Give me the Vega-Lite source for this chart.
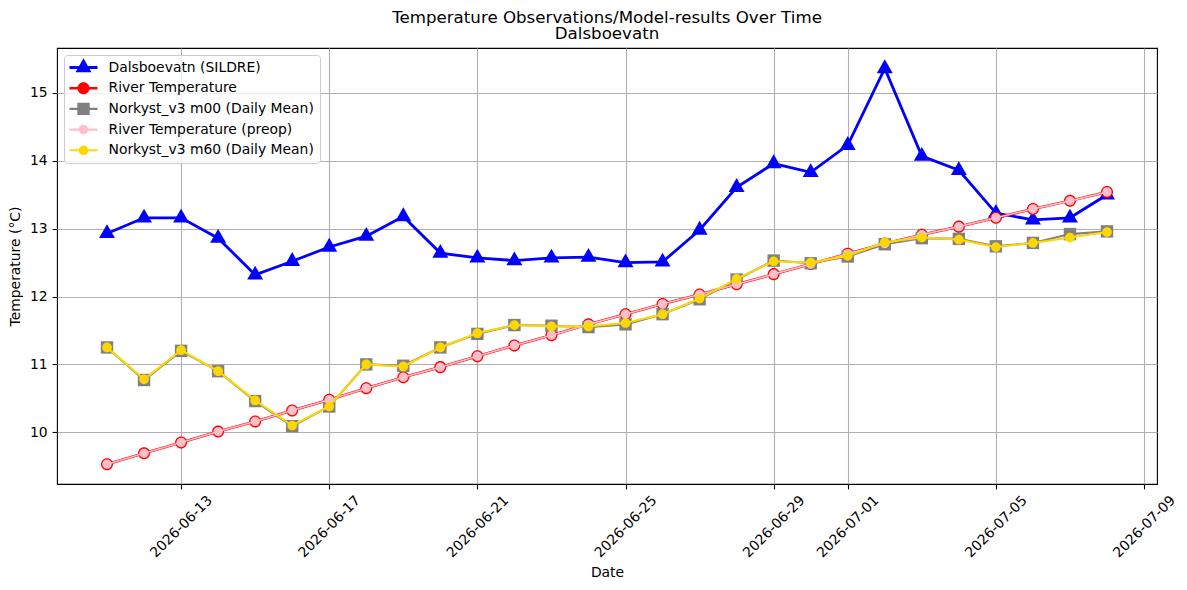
{
  "$schema": "https://vega.github.io/schema/vega-lite/v6.json",
  "width": 1100,
  "height": 436,
  "autosize": {"type": "none"},
  "padding": {"left": 57, "top": 48, "right": 30, "bottom": 106},
  "background": "white",
  "title": {
    "text": ["Temperature Observations/Model-results Over Time", "Dalsboevatn"],
    "fontSize": 16.67,
    "fontWeight": "normal",
    "font": "DejaVu Sans",
    "color": "black",
    "anchor": "middle",
    "lineHeight": 16.7,
    "offset": 5
  },
  "config": {
    "font": "DejaVu Sans",
    "view": {"stroke": "black", "strokeWidth": 1.1},
    "axis": {
      "grid": true,
      "gridColor": "#b0b0b0",
      "gridWidth": 1.1,
      "gridOpacity": 1,
      "domain": false,
      "ticks": true,
      "tickColor": "black",
      "tickSize": 4.9,
      "tickWidth": 1.1,
      "labelFont": "DejaVu Sans",
      "labelFontSize": 13.9,
      "labelColor": "black",
      "titleFont": "DejaVu Sans",
      "titleFontSize": 13.9,
      "titleFontWeight": "normal",
      "titleColor": "black",
      "labelOverlap": false,
      "labelFlush": false
    },
    "legend": {
      "orient": "none",
      "legendX": 7,
      "legendY": 7,
      "fillColor": "rgba(255,255,255,0.8)",
      "strokeColor": "#cccccc",
      "cornerRadius": 3,
      "padding": 5.5,
      "labelFont": "DejaVu Sans",
      "labelFontSize": 13.9,
      "labelColor": "black",
      "labelLimit": 400,
      "symbolSize": 196,
      "symbolOffset": 7,
      "symbolOpacity": 1,
      "symbolStrokeWidth": 0,
      "rowPadding": 6.7,
      "labelOffset": 18
    }
  },
  "data": {
    "values": [
      {"date": "2026-06-11", "series": "Dalsboevatn (SILDRE)", "value": 12.93},
      {"date": "2026-06-12", "series": "Dalsboevatn (SILDRE)", "value": 13.16},
      {"date": "2026-06-13", "series": "Dalsboevatn (SILDRE)", "value": 13.16},
      {"date": "2026-06-14", "series": "Dalsboevatn (SILDRE)", "value": 12.86},
      {"date": "2026-06-15", "series": "Dalsboevatn (SILDRE)", "value": 12.32},
      {"date": "2026-06-16", "series": "Dalsboevatn (SILDRE)", "value": 12.52},
      {"date": "2026-06-17", "series": "Dalsboevatn (SILDRE)", "value": 12.73},
      {"date": "2026-06-18", "series": "Dalsboevatn (SILDRE)", "value": 12.89},
      {"date": "2026-06-19", "series": "Dalsboevatn (SILDRE)", "value": 13.18},
      {"date": "2026-06-20", "series": "Dalsboevatn (SILDRE)", "value": 12.64},
      {"date": "2026-06-21", "series": "Dalsboevatn (SILDRE)", "value": 12.57},
      {"date": "2026-06-22", "series": "Dalsboevatn (SILDRE)", "value": 12.53},
      {"date": "2026-06-23", "series": "Dalsboevatn (SILDRE)", "value": 12.57},
      {"date": "2026-06-24", "series": "Dalsboevatn (SILDRE)", "value": 12.58},
      {"date": "2026-06-25", "series": "Dalsboevatn (SILDRE)", "value": 12.50},
      {"date": "2026-06-26", "series": "Dalsboevatn (SILDRE)", "value": 12.51},
      {"date": "2026-06-27", "series": "Dalsboevatn (SILDRE)", "value": 12.98},
      {"date": "2026-06-28", "series": "Dalsboevatn (SILDRE)", "value": 13.61},
      {"date": "2026-06-29", "series": "Dalsboevatn (SILDRE)", "value": 13.96},
      {"date": "2026-06-30", "series": "Dalsboevatn (SILDRE)", "value": 13.83},
      {"date": "2026-07-01", "series": "Dalsboevatn (SILDRE)", "value": 14.23},
      {"date": "2026-07-02", "series": "Dalsboevatn (SILDRE)", "value": 15.36},
      {"date": "2026-07-03", "series": "Dalsboevatn (SILDRE)", "value": 14.07},
      {"date": "2026-07-04", "series": "Dalsboevatn (SILDRE)", "value": 13.86},
      {"date": "2026-07-05", "series": "Dalsboevatn (SILDRE)", "value": 13.23},
      {"date": "2026-07-06", "series": "Dalsboevatn (SILDRE)", "value": 13.13},
      {"date": "2026-07-07", "series": "Dalsboevatn (SILDRE)", "value": 13.16},
      {"date": "2026-07-08", "series": "Dalsboevatn (SILDRE)", "value": 13.50},

      {"date": "2026-06-11", "series": "River Temperature", "value": 9.53},
      {"date": "2026-06-12", "series": "River Temperature", "value": 9.69},
      {"date": "2026-06-13", "series": "River Temperature", "value": 9.85},
      {"date": "2026-06-14", "series": "River Temperature", "value": 10.01},
      {"date": "2026-06-15", "series": "River Temperature", "value": 10.16},
      {"date": "2026-06-16", "series": "River Temperature", "value": 10.32},
      {"date": "2026-06-17", "series": "River Temperature", "value": 10.48},
      {"date": "2026-06-18", "series": "River Temperature", "value": 10.65},
      {"date": "2026-06-19", "series": "River Temperature", "value": 10.81},
      {"date": "2026-06-20", "series": "River Temperature", "value": 10.96},
      {"date": "2026-06-21", "series": "River Temperature", "value": 11.12},
      {"date": "2026-06-22", "series": "River Temperature", "value": 11.28},
      {"date": "2026-06-23", "series": "River Temperature", "value": 11.43},
      {"date": "2026-06-24", "series": "River Temperature", "value": 11.59},
      {"date": "2026-06-25", "series": "River Temperature", "value": 11.74},
      {"date": "2026-06-26", "series": "River Temperature", "value": 11.89},
      {"date": "2026-06-27", "series": "River Temperature", "value": 12.03},
      {"date": "2026-06-28", "series": "River Temperature", "value": 12.18},
      {"date": "2026-06-29", "series": "River Temperature", "value": 12.33},
      {"date": "2026-06-30", "series": "River Temperature", "value": 12.48},
      {"date": "2026-07-01", "series": "River Temperature", "value": 12.63},
      {"date": "2026-07-02", "series": "River Temperature", "value": 12.78},
      {"date": "2026-07-03", "series": "River Temperature", "value": 12.91},
      {"date": "2026-07-04", "series": "River Temperature", "value": 13.03},
      {"date": "2026-07-05", "series": "River Temperature", "value": 13.16},
      {"date": "2026-07-06", "series": "River Temperature", "value": 13.29},
      {"date": "2026-07-07", "series": "River Temperature", "value": 13.41},
      {"date": "2026-07-08", "series": "River Temperature", "value": 13.54},

      {"date": "2026-06-11", "series": "Norkyst_v3 m00 (Daily Mean)", "value": 11.25},
      {"date": "2026-06-12", "series": "Norkyst_v3 m00 (Daily Mean)", "value": 10.77},
      {"date": "2026-06-13", "series": "Norkyst_v3 m00 (Daily Mean)", "value": 11.20},
      {"date": "2026-06-14", "series": "Norkyst_v3 m00 (Daily Mean)", "value": 10.90},
      {"date": "2026-06-15", "series": "Norkyst_v3 m00 (Daily Mean)", "value": 10.46},
      {"date": "2026-06-16", "series": "Norkyst_v3 m00 (Daily Mean)", "value": 10.09},
      {"date": "2026-06-17", "series": "Norkyst_v3 m00 (Daily Mean)", "value": 10.38},
      {"date": "2026-06-18", "series": "Norkyst_v3 m00 (Daily Mean)", "value": 11.00},
      {"date": "2026-06-19", "series": "Norkyst_v3 m00 (Daily Mean)", "value": 10.98},
      {"date": "2026-06-20", "series": "Norkyst_v3 m00 (Daily Mean)", "value": 11.25},
      {"date": "2026-06-21", "series": "Norkyst_v3 m00 (Daily Mean)", "value": 11.45},
      {"date": "2026-06-22", "series": "Norkyst_v3 m00 (Daily Mean)", "value": 11.58},
      {"date": "2026-06-23", "series": "Norkyst_v3 m00 (Daily Mean)", "value": 11.57},
      {"date": "2026-06-24", "series": "Norkyst_v3 m00 (Daily Mean)", "value": 11.55},
      {"date": "2026-06-25", "series": "Norkyst_v3 m00 (Daily Mean)", "value": 11.59},
      {"date": "2026-06-26", "series": "Norkyst_v3 m00 (Daily Mean)", "value": 11.74},
      {"date": "2026-06-27", "series": "Norkyst_v3 m00 (Daily Mean)", "value": 11.96},
      {"date": "2026-06-28", "series": "Norkyst_v3 m00 (Daily Mean)", "value": 12.25},
      {"date": "2026-06-29", "series": "Norkyst_v3 m00 (Daily Mean)", "value": 12.53},
      {"date": "2026-06-30", "series": "Norkyst_v3 m00 (Daily Mean)", "value": 12.49},
      {"date": "2026-07-01", "series": "Norkyst_v3 m00 (Daily Mean)", "value": 12.59},
      {"date": "2026-07-02", "series": "Norkyst_v3 m00 (Daily Mean)", "value": 12.77},
      {"date": "2026-07-03", "series": "Norkyst_v3 m00 (Daily Mean)", "value": 12.86},
      {"date": "2026-07-04", "series": "Norkyst_v3 m00 (Daily Mean)", "value": 12.85},
      {"date": "2026-07-05", "series": "Norkyst_v3 m00 (Daily Mean)", "value": 12.74},
      {"date": "2026-07-06", "series": "Norkyst_v3 m00 (Daily Mean)", "value": 12.79},
      {"date": "2026-07-07", "series": "Norkyst_v3 m00 (Daily Mean)", "value": 12.92},
      {"date": "2026-07-08", "series": "Norkyst_v3 m00 (Daily Mean)", "value": 12.96},

      {"date": "2026-06-11", "series": "River Temperature (preop)", "value": 9.53},
      {"date": "2026-06-12", "series": "River Temperature (preop)", "value": 9.69},
      {"date": "2026-06-13", "series": "River Temperature (preop)", "value": 9.85},
      {"date": "2026-06-14", "series": "River Temperature (preop)", "value": 10.01},
      {"date": "2026-06-15", "series": "River Temperature (preop)", "value": 10.16},
      {"date": "2026-06-16", "series": "River Temperature (preop)", "value": 10.32},
      {"date": "2026-06-17", "series": "River Temperature (preop)", "value": 10.48},
      {"date": "2026-06-18", "series": "River Temperature (preop)", "value": 10.65},
      {"date": "2026-06-19", "series": "River Temperature (preop)", "value": 10.81},
      {"date": "2026-06-20", "series": "River Temperature (preop)", "value": 10.96},
      {"date": "2026-06-21", "series": "River Temperature (preop)", "value": 11.12},
      {"date": "2026-06-22", "series": "River Temperature (preop)", "value": 11.28},
      {"date": "2026-06-23", "series": "River Temperature (preop)", "value": 11.43},
      {"date": "2026-06-24", "series": "River Temperature (preop)", "value": 11.59},
      {"date": "2026-06-25", "series": "River Temperature (preop)", "value": 11.74},
      {"date": "2026-06-26", "series": "River Temperature (preop)", "value": 11.89},
      {"date": "2026-06-27", "series": "River Temperature (preop)", "value": 12.03},
      {"date": "2026-06-28", "series": "River Temperature (preop)", "value": 12.18},
      {"date": "2026-06-29", "series": "River Temperature (preop)", "value": 12.33},
      {"date": "2026-06-30", "series": "River Temperature (preop)", "value": 12.48},
      {"date": "2026-07-01", "series": "River Temperature (preop)", "value": 12.63},
      {"date": "2026-07-02", "series": "River Temperature (preop)", "value": 12.78},
      {"date": "2026-07-03", "series": "River Temperature (preop)", "value": 12.91},
      {"date": "2026-07-04", "series": "River Temperature (preop)", "value": 13.03},
      {"date": "2026-07-05", "series": "River Temperature (preop)", "value": 13.16},
      {"date": "2026-07-06", "series": "River Temperature (preop)", "value": 13.29},
      {"date": "2026-07-07", "series": "River Temperature (preop)", "value": 13.41},
      {"date": "2026-07-08", "series": "River Temperature (preop)", "value": 13.54},

      {"date": "2026-06-11", "series": "Norkyst_v3 m60 (Daily Mean)", "value": 11.25},
      {"date": "2026-06-12", "series": "Norkyst_v3 m60 (Daily Mean)", "value": 10.78},
      {"date": "2026-06-13", "series": "Norkyst_v3 m60 (Daily Mean)", "value": 11.21},
      {"date": "2026-06-14", "series": "Norkyst_v3 m60 (Daily Mean)", "value": 10.90},
      {"date": "2026-06-15", "series": "Norkyst_v3 m60 (Daily Mean)", "value": 10.47},
      {"date": "2026-06-16", "series": "Norkyst_v3 m60 (Daily Mean)", "value": 10.10},
      {"date": "2026-06-17", "series": "Norkyst_v3 m60 (Daily Mean)", "value": 10.38},
      {"date": "2026-06-18", "series": "Norkyst_v3 m60 (Daily Mean)", "value": 11.00},
      {"date": "2026-06-19", "series": "Norkyst_v3 m60 (Daily Mean)", "value": 10.97},
      {"date": "2026-06-20", "series": "Norkyst_v3 m60 (Daily Mean)", "value": 11.25},
      {"date": "2026-06-21", "series": "Norkyst_v3 m60 (Daily Mean)", "value": 11.46},
      {"date": "2026-06-22", "series": "Norkyst_v3 m60 (Daily Mean)", "value": 11.58},
      {"date": "2026-06-23", "series": "Norkyst_v3 m60 (Daily Mean)", "value": 11.56},
      {"date": "2026-06-24", "series": "Norkyst_v3 m60 (Daily Mean)", "value": 11.56},
      {"date": "2026-06-25", "series": "Norkyst_v3 m60 (Daily Mean)", "value": 11.61},
      {"date": "2026-06-26", "series": "Norkyst_v3 m60 (Daily Mean)", "value": 11.74},
      {"date": "2026-06-27", "series": "Norkyst_v3 m60 (Daily Mean)", "value": 11.97},
      {"date": "2026-06-28", "series": "Norkyst_v3 m60 (Daily Mean)", "value": 12.26},
      {"date": "2026-06-29", "series": "Norkyst_v3 m60 (Daily Mean)", "value": 12.52},
      {"date": "2026-06-30", "series": "Norkyst_v3 m60 (Daily Mean)", "value": 12.50},
      {"date": "2026-07-01", "series": "Norkyst_v3 m60 (Daily Mean)", "value": 12.60},
      {"date": "2026-07-02", "series": "Norkyst_v3 m60 (Daily Mean)", "value": 12.80},
      {"date": "2026-07-03", "series": "Norkyst_v3 m60 (Daily Mean)", "value": 12.87},
      {"date": "2026-07-04", "series": "Norkyst_v3 m60 (Daily Mean)", "value": 12.84},
      {"date": "2026-07-05", "series": "Norkyst_v3 m60 (Daily Mean)", "value": 12.73},
      {"date": "2026-07-06", "series": "Norkyst_v3 m60 (Daily Mean)", "value": 12.79},
      {"date": "2026-07-07", "series": "Norkyst_v3 m60 (Daily Mean)", "value": 12.87},
      {"date": "2026-07-08", "series": "Norkyst_v3 m60 (Daily Mean)", "value": 12.95}
    ]
  },
  "encoding": {
    "x": {
      "field": "date",
      "type": "temporal",
      "title": "Date",
      "scale": {
        "type": "utc",
        "domain": [
          {"year": 2026, "month": 6, "date": 9, "hours": 15, "minutes": 36, "utc": true},
          {"year": 2026, "month": 7, "date": 9, "hours": 8, "minutes": 24, "utc": true}
        ]
      },
      "axis": {
        "values": [
          {"year": 2026, "month": 6, "date": 13, "utc": true},
          {"year": 2026, "month": 6, "date": 17, "utc": true},
          {"year": 2026, "month": 6, "date": 21, "utc": true},
          {"year": 2026, "month": 6, "date": 25, "utc": true},
          {"year": 2026, "month": 6, "date": 29, "utc": true},
          {"year": 2026, "month": 7, "date": 1, "utc": true},
          {"year": 2026, "month": 7, "date": 5, "utc": true},
          {"year": 2026, "month": 7, "date": 9, "utc": true}
        ],
        "labelExpr": "utcFormat(datum.value, '%Y-%m-%d')",
        "labelAngle": -45,
        "labelAlign": "center",
        "labelBaseline": "middle",
        "labelPadding": 37.5,
        "titlePadding": 6
      }
    },
    "y": {
      "field": "value",
      "type": "quantitative",
      "title": "Temperature (°C)",
      "scale": {"domain": [9.238, 15.662], "nice": false, "zero": false},
      "axis": {"values": [10, 11, 12, 13, 14, 15], "labelPadding": 4.9, "titlePadding": 7}
    }
  },
  "layer": [
    {
      "transform": [{"filter": "datum.series === 'Dalsboevatn (SILDRE)'"}],
      "mark": {"type": "line", "color": "#0000ff", "strokeWidth": 2.8}
    },
    {
      "transform": [{"filter": "datum.series === 'Dalsboevatn (SILDRE)'"}],
      "mark": {"type": "point", "filled": true, "opacity": 1, "strokeWidth": 0, "size": 196, "color": "#0000ff", "shape": "M0,-1.31L1.14,0.67L-1.14,0.67Z"}
    },
    {
      "transform": [{"filter": "datum.series === 'River Temperature'"}],
      "mark": {"type": "line", "color": "#ff0000", "strokeWidth": 2.6}
    },
    {
      "transform": [{"filter": "datum.series === 'River Temperature'"}],
      "mark": {"type": "point", "filled": true, "opacity": 1, "strokeWidth": 0, "size": 196, "color": "#ff0000", "shape": "M0.86,0A0.86,0.86 0 1,1 -0.86,0A0.86,0.86 0 1,1 0.86,0Z"}
    },
    {
      "transform": [{"filter": "datum.series === 'Norkyst_v3 m00 (Daily Mean)'"}],
      "mark": {"type": "line", "color": "#808080", "strokeWidth": 2.1}
    },
    {
      "transform": [{"filter": "datum.series === 'Norkyst_v3 m00 (Daily Mean)'"}],
      "mark": {"type": "point", "filled": true, "opacity": 1, "strokeWidth": 0, "size": 196, "color": "#808080", "shape": "M-0.886,-0.886H0.886V0.886H-0.886Z"}
    },
    {
      "transform": [{"filter": "datum.series === 'River Temperature (preop)'"}],
      "mark": {"type": "line", "color": "#ffc0cb", "strokeWidth": 1.6}
    },
    {
      "transform": [{"filter": "datum.series === 'River Temperature (preop)'"}],
      "mark": {"type": "point", "filled": true, "opacity": 1, "strokeWidth": 0, "size": 196, "color": "#ffc0cb", "shape": "M0.67,0A0.67,0.67 0 1,1 -0.67,0A0.67,0.67 0 1,1 0.67,0Z"}
    },
    {
      "transform": [{"filter": "datum.series === 'Norkyst_v3 m60 (Daily Mean)'"}],
      "mark": {"type": "line", "color": "#ffd700", "strokeWidth": 2.1}
    },
    {
      "transform": [{"filter": "datum.series === 'Norkyst_v3 m60 (Daily Mean)'"}],
      "mark": {"type": "point", "filled": true, "opacity": 1, "strokeWidth": 0, "size": 196, "color": "#ffd700", "shape": "M0.69,0A0.69,0.69 0 1,1 -0.69,0A0.69,0.69 0 1,1 0.69,0Z"}
    },
    {
      "mark": {"type": "point", "filled": true, "opacity": 0, "strokeWidth": 0, "size": 196},
      "encoding": {
        "color": {
          "field": "series",
          "type": "nominal",
          "title": null,
          "scale": {
            "domain": ["Dalsboevatn (SILDRE)", "River Temperature", "Norkyst_v3 m00 (Daily Mean)", "River Temperature (preop)", "Norkyst_v3 m60 (Daily Mean)"],
            "range": ["#0000ff", "#ff0000", "#808080", "#ffc0cb", "#ffd700"]
          },
          "legend": {"title": null, "symbolOpacity": 1}
        },
        "shape": {
          "field": "series",
          "type": "nominal",
          "title": null,
          "scale": {
            "domain": ["Dalsboevatn (SILDRE)", "River Temperature", "Norkyst_v3 m00 (Daily Mean)", "River Temperature (preop)", "Norkyst_v3 m60 (Daily Mean)"],
            "range": [
              "M-2,-0.2H2V0.2H-2Z M0,-1.31L1.14,0.67L-1.14,0.67Z",
              "M-2,-0.17H2V0.17H-2Z M0.86,0A0.86,0.86 0 1,1 -0.86,0A0.86,0.86 0 1,1 0.86,0Z",
              "M-2,-0.15H2V0.15H-2Z M-0.886,-0.886H0.886V0.886H-0.886Z",
              "M-2,-0.15H2V0.15H-2Z M0.68,0A0.68,0.68 0 1,1 -0.68,0A0.68,0.68 0 1,1 0.68,0Z",
              "M-2,-0.15H2V0.15H-2Z M0.69,0A0.69,0.69 0 1,1 -0.69,0A0.69,0.69 0 1,1 0.69,0Z"
            ]
          },
          "legend": {"title": null, "symbolOpacity": 1}
        }
      }
    }
  ]
}
